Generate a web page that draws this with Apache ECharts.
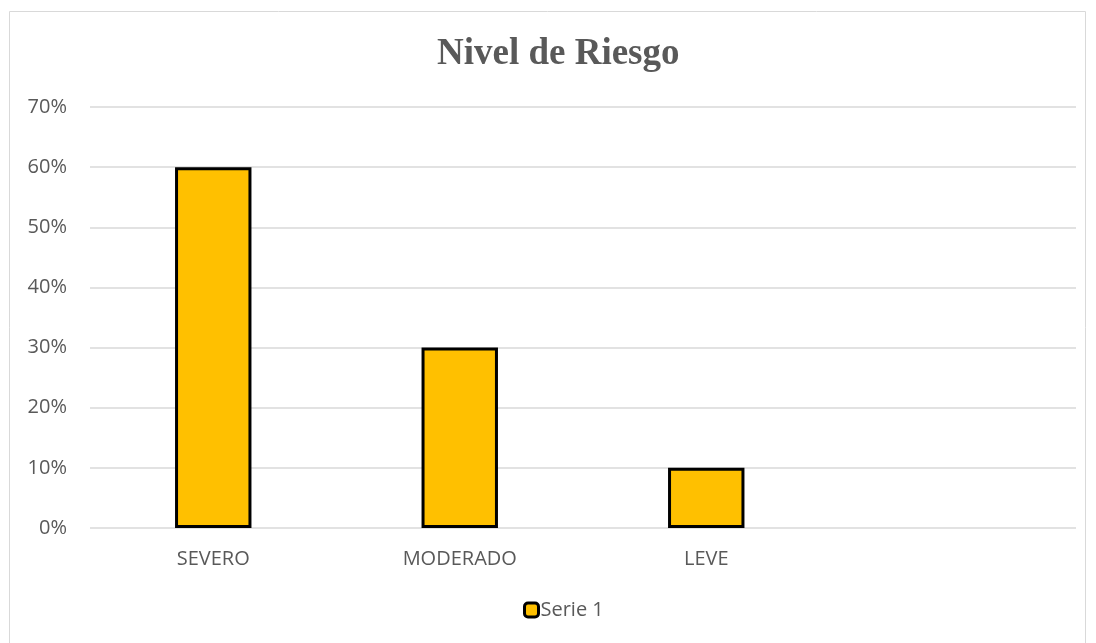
<!DOCTYPE html>
<html>
<head>
<meta charset="utf-8">
<script src="https://cdn.jsdelivr.net/npm/echarts@6/dist/echarts.min.js"></script>
<style>
  html, body { margin: 0; padding: 0; background: #fff; }
  #main { width: 1096px; height: 643px; }
</style>
</head>
<body>
<div id="main"></div>
<script>
var categories = ["SEVERO", "MODERADO", "LEVE", ""];
var serie1 = [0.6, 0.3, 0.1, null];
var yTicks = [0, 0.1, 0.2, 0.3, 0.4, 0.5, 0.6, 0.7];

var myChart = echarts.init(document.getElementById("main"));

myChart.setOption({
  animation: false,
  title: {
    text: "Nivel de Riesgo",
    left: 432,
    top: 31,
    textStyle: {
      fontFamily: "Liberation Serif",
      fontWeight: "bold",
      fontSize: 37,
      color: "#595959"
    }
  },
  // 外框
  graphic: [{
    type: "rect",
    shape: { x: 9.5, y: 11.5, width: 1076, height: 640 },
    style: { fill: "none", stroke: "#d9d9d9", lineWidth: 1 },
    silent: true
  }],
  legend: {
    data: [{ name: "Serie 1", icon: "roundRect" }],
    bottom: 18,
    left: 518,
    itemWidth: 14,
    itemHeight: 14,
    itemGap: 4,
    itemStyle: { borderColor: "#000", borderWidth: 3 },
    textStyle: { fontFamily: "Open Sans", fontSize: 20, color: "#595959", padding: [0, 0, 0, -3] }
  },
  grid: { left: 90, right: 20, top: 107, bottom: 115 },
  xAxis: {
    type: "category",
    data: categories,
    axisLine: { show: false },
    axisTick: { show: false },
    axisLabel: { fontFamily: "Open Sans", fontSize: 20, color: "#595959", margin: 21 }
  },
  yAxis: {
    type: "value",
    min: 0,
    max: yTicks[yTicks.length - 1],
    interval: 0.1,
    axisLine: { show: false },
    axisTick: { show: false },
    splitLine: { lineStyle: { color: "#d9d9d9", width: 1.5 } },
    axisLabel: {
      fontFamily: "Open Sans",
      fontSize: 20,
      color: "#595959",
      margin: 23,
      formatter: function (v) { return Math.round(v * 100) + "%"; }
    }
  },
  series: [{
    name: "Serie 1",
    type: "bar",
    data: serie1,
    barWidth: "31%",
    itemStyle: { color: "#FFC000", borderColor: "#000", borderWidth: 3 }
  }]
});
</script>
</body>
</html>
